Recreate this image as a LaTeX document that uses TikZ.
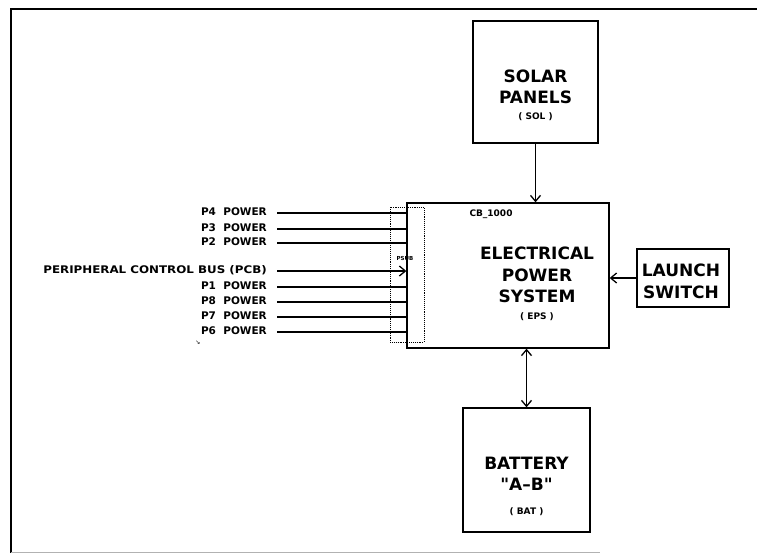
\documentclass[tikz,border=0pt]{standalone}
\usepackage{fontspec}
\usepackage{graphicx}
\setmainfont{DejaVu Sans}
\newfontfamily\plainq[Ligatures=ResetAll]{DejaVu Sans}
\usetikzlibrary{arrows.meta}

\tikzset{
  blk/.style={draw, line width=1.3pt, inner sep=0pt},
  bigtxt/.style={font=\bfseries\fontsize{17}{21.5}\selectfont, align=center, inner sep=0pt},
  smalltxt/.style={font=\bfseries\fontsize{9}{10}\selectfont, inner sep=0pt},
  lbltxt/.style={font=\bfseries\fontsize{10.5}{12}\selectfont, anchor=base east, inner sep=0pt},
  wire/.style={line width=1.3pt},
  >={Straight Barb[length=6pt,width=10pt]}
}

\begin{document}
\begin{tikzpicture}[x=1pt,y=-1pt]
        \useasboundingbox (0,0) rectangle (757,555);
        \draw[line width=1.6pt] (11,553) -- (11,9) -- (757,9);
        \draw[gray!60, line width=0.5pt] (11,552) -- (600,552);

        \node[blk, minimum width=125, minimum height=122] (sol) at (535.5,82) {};
        \node[bigtxt] (solt) at (535.5,87) {SOLAR\\PANELS};
        \node[smalltxt] (solc) at (535.5,117) {( SOL )};

        \node[draw, densely dotted, line width=0.9pt, minimum width=34, minimum height=135] (psub) at (407,274.5) {};
        \node[blk, minimum width=202, minimum height=145] (eps) at (508,275.5) {};
        \node[smalltxt] (cb) at (491,214) {CB\_1000};
        \node[bigtxt] (epst) at (537,275) {ELECTRICAL\\POWER\\SYSTEM};
        \node[smalltxt] (epsc) at (537,317) {( EPS )};
        \node[font=\bfseries\fontsize{5.5}{6}\selectfont, inner sep=0pt] (psubt) at (405,258) {PSUB};

        \node[blk, minimum width=92, minimum height=58] (lsw) at (683,278) {};
        \node[bigtxt] (lswt) at (681,281.5) {LAUNCH\\SWITCH};

        \node[blk, minimum width=127, minimum height=124] (bat) at (526.5,470) {};
        \node[bigtxt] (batt) at (526.5,474) {BATTERY\\{\plainq\bfseries"}A–B{\plainq\bfseries"}};
        \node[smalltxt] (batc) at (526.5,512) {( BAT )};

        \draw[wire, ->] (sol.south) -- (sol.south |- eps.north);
        \draw[wire, ->] (lsw.west) -- (lsw.west -| eps.east);
        \draw[wire, <->] (bat.north) -- (bat.north |- eps.south);

        \foreach \nm/\y in {P4/215, P3/231, P2/245, P1/289, P8/304, P7/319, P6/334}{
            \node[lbltxt] (\nm) at (267,\y) {\nm\ \ POWER};
            \draw[wire] ([xshift=10]\nm.base east) ++(0,-2) -- ++(131,0);
        }
        \node[lbltxt] (pcb) at (267,273) {\scalebox{1.13}[1]{PERIPHERAL CONTROL BUS (PCB)}};
        \draw[wire, ->] ([xshift=10,yshift=2]pcb.base east) -- ([yshift=2]pcb.base east -| eps.west);

        \node[font=\fontsize{6}{6}\selectfont, inner sep=0pt] (tick) at (198,343) {↘};
    \end{tikzpicture}
\end{document}
